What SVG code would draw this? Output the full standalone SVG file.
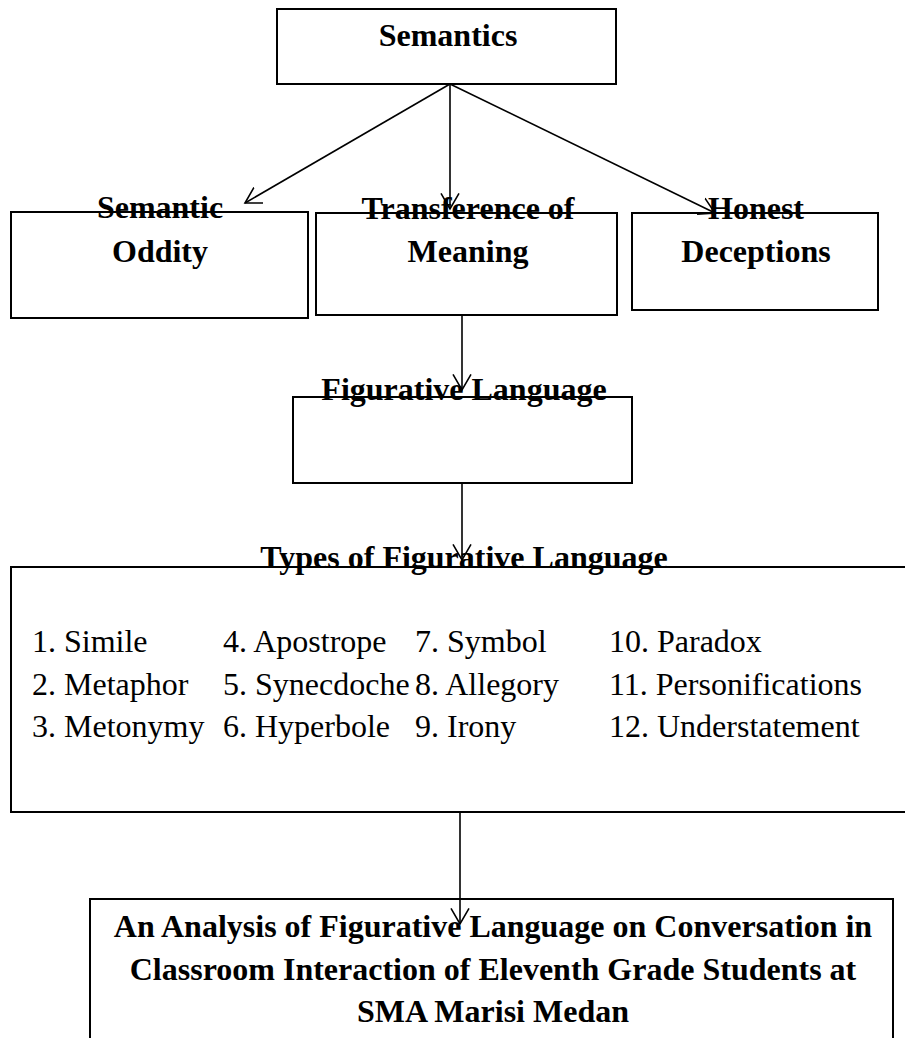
<svg xmlns="http://www.w3.org/2000/svg" width="905" height="1038" viewBox="0 0 905 1038">
<style>
.box{fill:#fff;stroke:#000;stroke-width:2}
.t{font-family:"Liberation Serif","Times New Roman",serif;font-size:32px;fill:#000}
.b{font-weight:bold;text-anchor:middle}
.c{stroke:#000;stroke-width:1.6;fill:none}
</style>
<defs>
<marker id="ah" markerUnits="userSpaceOnUse" markerWidth="20" markerHeight="22" refX="15.6" refY="10" orient="auto">
<path d="M0,1 L15.6,10 L0,19" fill="none" stroke="#000" stroke-width="1.6"/>
</marker>
</defs>
<rect width="905" height="1038" fill="#fff"/>
<g id="semantics">
<rect class="box" x="277" y="9" width="339" height="75"/>
<text class="t b" x="448" y="46">Semantics</text>
</g>
<g id="semantic-oddity">
<rect class="box" x="11" y="212" width="297" height="106"/>
<text class="t b" x="160" y="218">Semantic</text>
<text class="t b" x="160" y="262">Oddity</text>
</g>
<g id="transference">
<rect class="box" x="316" y="213" width="301" height="102"/>
<text class="t b" x="468" y="219">Transference of</text>
<text class="t b" x="468" y="262">Meaning</text>
</g>
<g id="honest">
<rect class="box" x="632" y="213" width="246" height="97"/>
<text class="t b" x="756" y="219">Honest</text>
<text class="t b" x="756" y="262">Deceptions</text>
</g>
<g id="figurative">
<rect class="box" x="293" y="397" width="339" height="86"/>
<text class="t b" x="464" y="400">Figurative Language</text>
</g>
<g id="types">
<path class="box" d="M912,567 H11 V812 H912" fill="#fff"/>
<text class="t b" x="464" y="568">Types of Figurative Language</text>
<g class="t">
<text x="32" y="652">1. Simile</text>
<text x="32" y="695">2. Metaphor</text>
<text x="32" y="737">3. Metonymy</text>
<text x="223" y="652">4. Apostrope</text>
<text x="223" y="695">5. Synecdoche</text>
<text x="223" y="737">6. Hyperbole</text>
<text x="415" y="652">7. Symbol</text>
<text x="415" y="695">8. Allegory</text>
<text x="415" y="737">9. Irony</text>
<text x="609" y="652">10. Paradox</text>
<text x="609" y="695">11. Personifications</text>
<text x="609" y="737">12. Understatement</text>
</g>
</g>
<g id="analysis">
<rect class="box" x="90" y="899" width="803" height="160"/>
<text class="t b" x="493" y="937">An Analysis of Figurative Language on Conversation in</text>
<text class="t b" x="493" y="980">Classroom Interaction of Eleventh Grade Students at</text>
<text class="t b" x="493" y="1022">SMA Marisi Medan</text>
</g>
<g id="connectors">
<line class="c" x1="450" y1="84" x2="245" y2="203" marker-end="url(#ah)"/>
<line class="c" x1="450" y1="84" x2="450" y2="209" marker-end="url(#ah)"/>
<line class="c" x1="450" y1="84" x2="715" y2="213" marker-end="url(#ah)"/>
<line class="c" x1="462" y1="315" x2="462" y2="390" marker-end="url(#ah)"/>
<line class="c" x1="462" y1="483" x2="462" y2="560" marker-end="url(#ah)"/>
<line class="c" x1="460" y1="812" x2="460" y2="924" marker-end="url(#ah)"/>
</g>
</svg>
